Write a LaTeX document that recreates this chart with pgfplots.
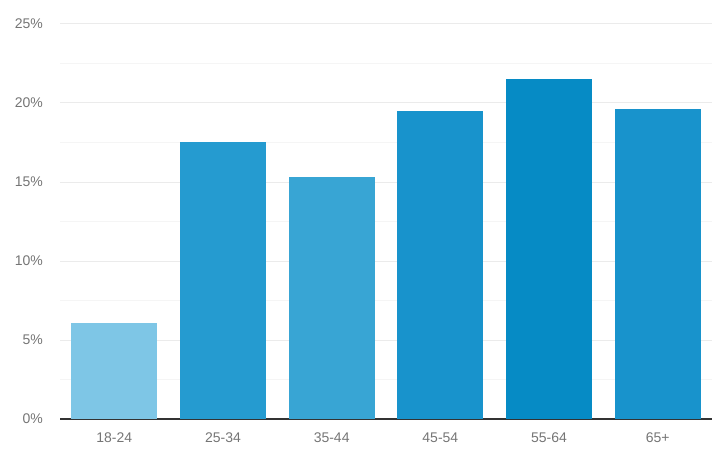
\documentclass[border=0pt]{standalone}
\usepackage{pgfplots}
\pgfplotsset{compat=1.18}
\usepackage{fontspec}
\setmainfont{Liberation Sans}
\definecolor{gridmaj}{HTML}{EBEBEB}
\definecolor{gridmin}{HTML}{F5F5F5}
\definecolor{ticktext}{HTML}{757575}
\definecolor{barA}{HTML}{7EC6E6}
\definecolor{barB}{HTML}{259BD0}
\definecolor{barC}{HTML}{38A5D4}
\definecolor{barD}{HTML}{1893CC}
\definecolor{barE}{HTML}{068BC5}
\definecolor{barF}{HTML}{1893CC}

\begin{document}
\begin{tikzpicture}
\begin{axis}[
    scale only axis,
    width=652bp, height=395bp,
    font=\fontsize{14bp}{16bp}\selectfont,
    ybar, bar width=86bp, bar shift=0pt,
    xmin=-0.5, xmax=5.5,
    ymin=0, ymax=25,
    xtick={0,1,2,3,4,5},
    xticklabels={18-24,25-34,35-44,45-54,55-64,65+},
    ytick={0,5,10,15,20,25},
    minor ytick={2.5,7.5,12.5,17.5,22.5},
    yticklabel={\pgfmathprintnumber{\tick}\%},
    /pgf/number format/assume math mode=true,
    tick label style={text=ticktext},
    yticklabel style={inner sep=0pt, xshift=-17bp},
    xticklabel style={inner sep=0pt, yshift=-14bp},
    major tick length=0pt, minor tick length=0pt,
    ymajorgrids, yminorgrids,
    major grid style={gridmaj, line width=1bp},
    minor grid style={gridmin, line width=1bp},
    axis y line*=left,
    y axis line style={draw=none},
    axis x line*=bottom,
    x axis line style={draw=black!80, line width=1.2bp, -},
    clip=false,
]
\addplot[fill=barA, draw=none] coordinates {(0,6.05)};
\addplot[fill=barB, draw=none] coordinates {(1,17.5)};
\addplot[fill=barC, draw=none] coordinates {(2,15.3)};
\addplot[fill=barD, draw=none] coordinates {(3,19.5)};
\addplot[fill=barE, draw=none] coordinates {(4,21.55)};
\addplot[fill=barF, draw=none] coordinates {(5,19.6)};
\end{axis}
\pgfresetboundingbox
\path (current axis.south west) ++(-60bp,-52bp) coordinate (bl);
\path (current axis.north east) ++(11bp,24bp) coordinate (tr);
\path[use as bounding box] (bl) rectangle (tr);
\end{tikzpicture}
\end{document}
